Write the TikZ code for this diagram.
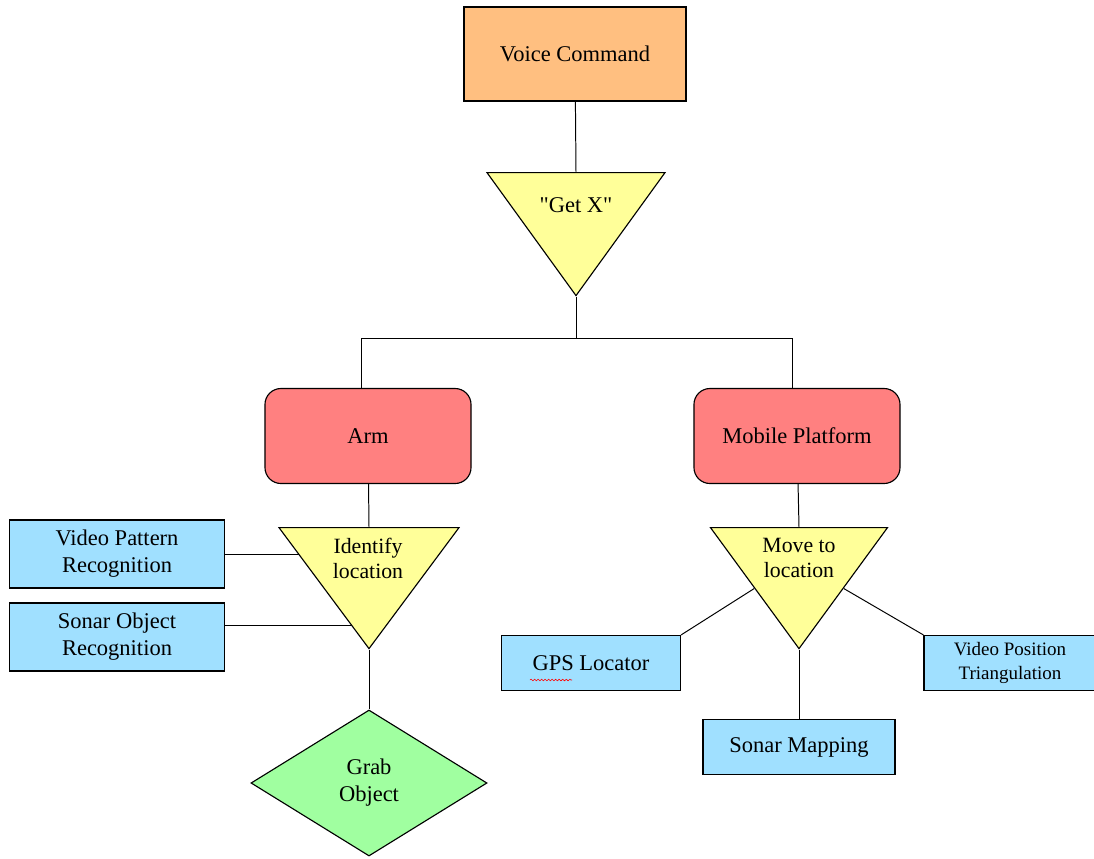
\documentclass[tikz,border=0pt]{standalone}
\usepackage{fontspec}
\setmainfont{Liberation Serif}
\newfontfamily\quotefont{Liberation Serif}
\usetikzlibrary{shapes.geometric,backgrounds,calc,decorations.pathmorphing}

\definecolor{voiceorange}{HTML}{FFBF80}
\definecolor{stepyellow}{HTML}{FFFF99}
\definecolor{partred}{HTML}{FF8080}
\definecolor{sensorblue}{HTML}{A0E0FF}
\definecolor{grabgreen}{HTML}{A0FFA0}

\begin{document}
\begin{tikzpicture}[x=0.025cm,y=-0.025cm,
  every node/.style={font=\fontsize{16}{19.2}\selectfont,align=center},
  box/.style={draw,line width=0.8pt,inner sep=0pt},
  sensor/.style={box,fill=sensorblue},
  part/.style={box,fill=partred,rounded corners=0.4cm,minimum width=5.15cm,minimum height=2.375cm},
  tri/.style={isosceles triangle,isosceles triangle stretches,shape border rotate=270,
    draw,line width=0.8pt,fill=stepyellow,inner sep=0pt,anchor=north},
  link/.style={line width=0.7pt}]
\useasboundingbox (0,0) rectangle (1094,858);

% top of the tree
\node (voice) at (575,54) [box,fill=voiceorange,minimum width=5.55cm,minimum height=2.35cm] {Voice Command};
\node (getx) at (576,172) [tri,minimum width=4.45cm,minimum height=3.075cm] {};
\node (getx-txt) at (576,205) {\quotefont "Get X"};
\coordinate (split) at (576,338);

% the two branches
\node (arm) at (368,436) [part] {Arm};
\node (mobile) at (797,436) [part] {Mobile Platform};

% arm side
\node (identify) at (369,527) [tri,minimum width=4.5cm,minimum height=3.025cm] {};
\node (identify-txt) at (368,558) [font=\fontsize{15.5}{17.8}\selectfont] {Identify\\location};
\node (vpr) at (117,554) [sensor,minimum width=5.375cm,minimum height=1.7cm] {Video Pattern\\Recognition};
\node (sor) at (117,637) [sensor,minimum width=5.375cm,minimum height=1.7cm] {Sonar Object\\Recognition};
\node (grab) at (369,783) [diamond,box,fill=grabgreen,minimum width=5.9cm,minimum height=3.65cm] {Grab\\Object};

% platform side
\node (move) at (799,527) [tri,minimum width=4.425cm,minimum height=3.025cm] {};
\node (move-txt) at (799,558) [font=\fontsize{15.5}{17.8}\selectfont] {Move to\\location};
\node (gps) at (591,663) [sensor,minimum width=4.475cm,minimum height=1.375cm] {GPS Locator};
\node (vpt) at (1010,663) [sensor,minimum width=4.3cm,minimum height=1.375cm,
  font=\fontsize{13.5}{17}\selectfont] {Video Position\\Triangulation};
\node (sm) at (799,747) [sensor,minimum width=4.8cm,minimum height=1.375cm] {Sonar Mapping};

% spelling squiggle under GPS
\draw[red,line width=0.4pt,decorate,decoration={snake,amplitude=0.6pt,segment length=2.5pt}]
  ($(gps.center)+(-61,17)$) -- ++(42,0);

\begin{scope}[on background layer]
\draw[link] (voice) -- (getx.north);
\draw[link] (getx.apex) -- (split);
\draw[link] (split) -| ([xshift=-0.175cm]arm.north);
\draw[link] (split) -| ([xshift=-0.125cm]mobile.north);
\draw[link] (arm) -- (identify.north);
\draw[link] (vpr.east) -- (vpr.east -| identify.center);
\draw[link] ($(sor.east)+(0,-12)$) -- ++(130,0);
\draw[link] (identify.apex) -- (grab.north);
\draw[link] (mobile) -- (move.north);
\draw[link] (gps.north east) -- ($(move.apex)!0.5!(move.right corner)$);
\draw[link] (vpt.north west) -- ($(move.apex)!0.5!(move.left corner)$);
\draw[link] (move.apex) -- (sm.north);
\end{scope}
\end{tikzpicture}
\end{document}
